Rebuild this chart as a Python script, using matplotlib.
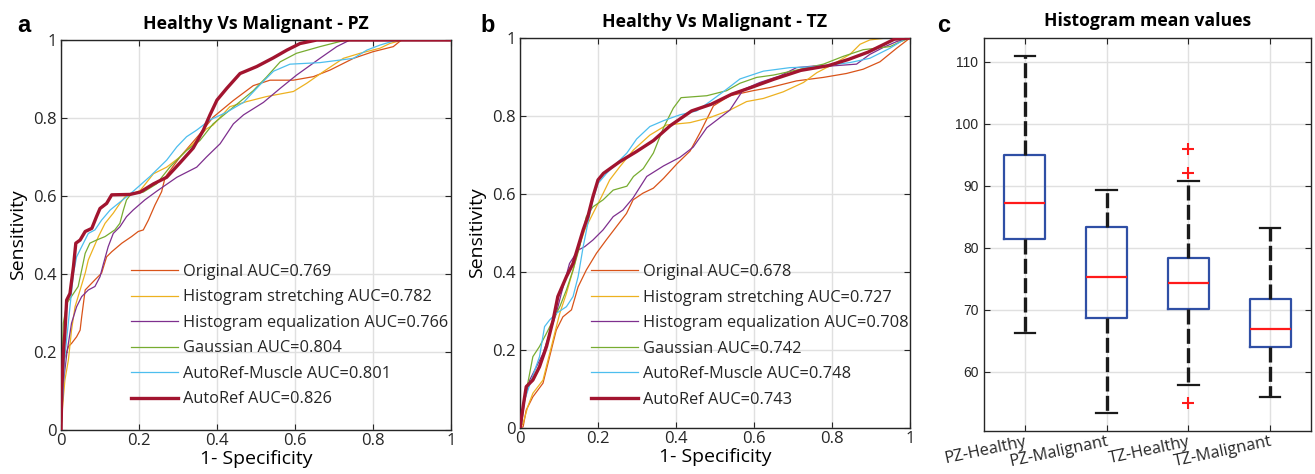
import matplotlib
matplotlib.use("Agg")
import matplotlib.pyplot as plt
import numpy as np

# ---------------- data ----------------
methods = ["Original", "Histogram stretching", "Histogram equalization",
           "Gaussian", "AutoRef-Muscle", "AutoRef"]
colors = ["#D95319", "#EDB120", "#7E2F8E", "#77AC30", "#4DBEEE", "#A2142F"]
auc_pz = ["0.769", "0.782", "0.766", "0.804", "0.801", "0.826"]
auc_tz = ["0.678", "0.727", "0.708", "0.742", "0.748", "0.743"]

# Panel a (PZ) ROC curves: (fpr, tpr)
pz_original_fpr = [0, 0.003, 0.008, 0.019, 0.027, 0.04, 0.049, 0.053, 0.062, 0.087, 0.104, 0.117, 0.13, 0.156, 0.181, 0.198, 0.211, 0.224, 0.241, 0.258, 0.267, 0.305, 0.356, 0.39, 0.442, 0.493, 0.536, 0.596, 0.647, 0.69, 0.75, 0.80, 0.852, 0.873, 1]
pz_original_tpr = [0, 0.10, 0.18, 0.214, 0.222, 0.239, 0.256, 0.29, 0.359, 0.385, 0.402, 0.444, 0.457, 0.479, 0.496, 0.509, 0.513, 0.538, 0.577, 0.611, 0.648, 0.70, 0.759, 0.802, 0.845, 0.883, 0.897, 0.897, 0.906, 0.923, 0.953, 0.97, 0.983, 1.0, 1]
pz_stretch_fpr = [0, 0.004, 0.01, 0.019, 0.027, 0.036, 0.049, 0.062, 0.07, 0.083, 0.096, 0.113, 0.134, 0.151, 0.164, 0.203, 0.237, 0.271, 0.305, 0.339, 0.373, 0.39, 0.433, 0.476, 0.527, 0.596, 0.63, 0.673, 0.724, 0.767, 0.818, 0.843, 0.877, 1]
pz_stretch_tpr = [0, 0.06, 0.128, 0.18, 0.256, 0.316, 0.359, 0.402, 0.436, 0.466, 0.496, 0.53, 0.556, 0.581, 0.598, 0.614, 0.657, 0.674, 0.70, 0.734, 0.772, 0.782, 0.829, 0.842, 0.855, 0.868, 0.889, 0.919, 0.953, 0.966, 0.979, 0.991, 1.0, 1]
pz_equal_fpr = [0, 0.006, 0.015, 0.027, 0.04, 0.053, 0.07, 0.087, 0.10, 0.109, 0.121, 0.134, 0.151, 0.168, 0.185, 0.215, 0.245, 0.297, 0.348, 0.373, 0.408, 0.442, 0.468, 0.519, 0.562, 0.604, 0.664, 0.707, 0.741, 1]
pz_equal_tpr = [0, 0.12, 0.197, 0.274, 0.316, 0.342, 0.359, 0.368, 0.393, 0.427, 0.47, 0.504, 0.521, 0.547, 0.564, 0.59, 0.612, 0.648, 0.674, 0.70, 0.734, 0.785, 0.808, 0.84, 0.876, 0.91, 0.953, 0.983, 1.0, 1]
pz_gauss_fpr = [0, 0.002, 0.006, 0.015, 0.032, 0.044, 0.053, 0.062, 0.074, 0.091, 0.113, 0.138, 0.151, 0.16, 0.168, 0.181, 0.211, 0.245, 0.279, 0.322, 0.356, 0.39, 0.442, 0.493, 0.527, 0.562, 0.604, 0.664, 0.715, 0.732, 1]
pz_gauss_tpr = [0, 0.15, 0.274, 0.325, 0.35, 0.368, 0.41, 0.453, 0.479, 0.487, 0.496, 0.513, 0.53, 0.564, 0.59, 0.607, 0.61, 0.631, 0.674, 0.717, 0.742, 0.785, 0.828, 0.87, 0.905, 0.944, 0.966, 0.983, 0.996, 1.0, 1]
pz_muscle_fpr = [0, 0.003, 0.01, 0.023, 0.032, 0.04, 0.053, 0.07, 0.087, 0.104, 0.126, 0.147, 0.168, 0.185, 0.228, 0.271, 0.297, 0.322, 0.348, 0.382, 0.425, 0.468, 0.51, 0.545, 0.587, 0.664, 0.75, 0.784, 0.818, 0.861, 1]
pz_muscle_tpr = [0, 0.06, 0.188, 0.316, 0.402, 0.444, 0.47, 0.504, 0.513, 0.538, 0.564, 0.581, 0.598, 0.612, 0.65, 0.692, 0.726, 0.752, 0.769, 0.795, 0.815, 0.84, 0.885, 0.92, 0.938, 0.942, 0.953, 0.974, 0.987, 1.0, 1]
pz_autoref_fpr = [0, 0.002, 0.006, 0.01, 0.0145, 0.023, 0.032, 0.038, 0.049, 0.062, 0.079, 0.091, 0.10, 0.117, 0.13, 0.177, 0.203, 0.237, 0.271, 0.305, 0.339, 0.365, 0.382, 0.40, 0.425, 0.459, 0.502, 0.544, 0.579, 0.613, 0.656, 1]
pz_autoref_tpr = [0, 0.10, 0.197, 0.25, 0.333, 0.35, 0.419, 0.479, 0.487, 0.509, 0.517, 0.547, 0.568, 0.581, 0.603, 0.604, 0.61, 0.631, 0.648, 0.685, 0.723, 0.769, 0.808, 0.846, 0.876, 0.914, 0.932, 0.954, 0.974, 0.991, 1.0, 1]

# Panel b (TZ) ROC curves
tz_original_fpr = [0, 0.008, 0.016, 0.033, 0.059, 0.076, 0.093, 0.11, 0.132, 0.149, 0.17, 0.196, 0.221, 0.247, 0.273, 0.29, 0.315, 0.342, 0.368, 0.402, 0.436, 0.462, 0.496, 0.538, 0.598, 0.641, 0.709, 0.778, 0.837, 0.88, 0.923, 0.966, 1]
tz_original_tpr = [0, 0.003, 0.046, 0.08, 0.115, 0.183, 0.251, 0.285, 0.303, 0.362, 0.405, 0.448, 0.482, 0.516, 0.55, 0.585, 0.602, 0.615, 0.64, 0.677, 0.71, 0.758, 0.826, 0.852, 0.865, 0.873, 0.89, 0.899, 0.909, 0.92, 0.939, 0.974, 1]
tz_stretch_fpr = [0, 0.008, 0.02, 0.033, 0.059, 0.076, 0.089, 0.102, 0.119, 0.136, 0.149, 0.166, 0.187, 0.209, 0.23, 0.256, 0.291, 0.333, 0.376, 0.436, 0.487, 0.538, 0.581, 0.624, 0.675, 0.727, 0.761, 0.803, 0.846, 0.872, 0.897, 0.94, 1]
tz_stretch_tpr = [0, 0.012, 0.055, 0.089, 0.123, 0.191, 0.243, 0.294, 0.345, 0.405, 0.456, 0.508, 0.55, 0.593, 0.636, 0.67, 0.713, 0.751, 0.777, 0.783, 0.796, 0.815, 0.837, 0.845, 0.862, 0.886, 0.911, 0.933, 0.958, 0.984, 0.995, 1.0, 1]
tz_equal_fpr = [0, 0.003, 0.012, 0.025, 0.042, 0.059, 0.076, 0.093, 0.106, 0.127, 0.149, 0.166, 0.187, 0.213, 0.239, 0.264, 0.29, 0.325, 0.368, 0.41, 0.444, 0.479, 0.538, 0.573, 0.615, 0.667, 0.709, 0.752, 0.795, 0.863, 0.897, 0.932, 0.966, 1]
tz_equal_tpr = [0, 0.003, 0.072, 0.123, 0.157, 0.191, 0.243, 0.294, 0.345, 0.422, 0.456, 0.465, 0.482, 0.508, 0.542, 0.559, 0.59, 0.645, 0.672, 0.694, 0.72, 0.77, 0.815, 0.868, 0.886, 0.903, 0.924, 0.928, 0.928, 0.933, 0.958, 0.976, 0.991, 1]
tz_gauss_fpr = [0, 0.008, 0.02, 0.033, 0.05, 0.068, 0.085, 0.102, 0.119, 0.136, 0.153, 0.17, 0.187, 0.213, 0.239, 0.274, 0.291, 0.316, 0.342, 0.368, 0.393, 0.413, 0.479, 0.53, 0.564, 0.607, 0.65, 0.692, 0.778, 0.829, 0.88, 0.949, 0.974, 1]
tz_gauss_tpr = [0, 0.055, 0.115, 0.183, 0.209, 0.243, 0.277, 0.311, 0.354, 0.405, 0.465, 0.542, 0.567, 0.585, 0.61, 0.62, 0.645, 0.665, 0.705, 0.77, 0.82, 0.847, 0.852, 0.865, 0.884, 0.899, 0.905, 0.914, 0.933, 0.953, 0.97, 0.978, 0.99, 1]
tz_muscle_fpr = [0, 0.003, 0.012, 0.029, 0.05, 0.063, 0.076, 0.093, 0.119, 0.136, 0.149, 0.162, 0.174, 0.187, 0.2, 0.222, 0.248, 0.274, 0.299, 0.333, 0.368, 0.41, 0.453, 0.487, 0.525, 0.564, 0.624, 0.692, 0.748, 0.8, 0.846, 0.897, 0.949, 0.983, 1]
tz_muscle_tpr = [0, 0.021, 0.072, 0.123, 0.183, 0.26, 0.277, 0.294, 0.311, 0.337, 0.388, 0.465, 0.525, 0.585, 0.627, 0.653, 0.679, 0.705, 0.741, 0.773, 0.788, 0.803, 0.813, 0.837, 0.865, 0.895, 0.915, 0.924, 0.926, 0.931, 0.937, 0.948, 0.974, 0.995, 1]
tz_autoref_fpr = [0, 0.008, 0.016, 0.033, 0.05, 0.068, 0.085, 0.097, 0.119, 0.136, 0.149, 0.162, 0.174, 0.187, 0.2, 0.214, 0.256, 0.299, 0.342, 0.385, 0.44, 0.49, 0.543, 0.595, 0.65, 0.72, 0.79, 0.842, 0.893, 0.94, 0.96, 1]
tz_autoref_tpr = [0, 0.055, 0.106, 0.123, 0.157, 0.209, 0.277, 0.337, 0.388, 0.422, 0.465, 0.508, 0.542, 0.593, 0.636, 0.653, 0.683, 0.709, 0.737, 0.775, 0.813, 0.83, 0.856, 0.874, 0.894, 0.917, 0.929, 0.945, 0.964, 0.987, 0.997, 1]

# Panel c box statistics
box_labels = ["PZ-Healthy", "PZ-Malignant", "TZ-Healthy", "TZ-Malignant"]
box_median = [87.3, 75.3, 74.4, 66.9]
box_q1 = [81.5, 68.7, 70.1, 64.0]
box_q3 = [95.0, 83.3, 78.4, 71.7]
box_whislo = [66.3, 53.3, 57.9, 55.9]
box_whishi = [111.0, 89.4, 90.8, 83.2]
box_fliers = [[], [], [96.0, 92.0, 55.0], []]

pz_curves = [(pz_original_fpr, pz_original_tpr), (pz_stretch_fpr, pz_stretch_tpr),
             (pz_equal_fpr, pz_equal_tpr), (pz_gauss_fpr, pz_gauss_tpr),
             (pz_muscle_fpr, pz_muscle_tpr), (pz_autoref_fpr, pz_autoref_tpr)]
tz_curves = [(tz_original_fpr, tz_original_tpr), (tz_stretch_fpr, tz_stretch_tpr),
             (tz_equal_fpr, tz_equal_tpr), (tz_gauss_fpr, tz_gauss_tpr),
             (tz_muscle_fpr, tz_muscle_tpr), (tz_autoref_fpr, tz_autoref_tpr)]

# ---------------- figure ----------------
W, H = 1315, 474
fig = plt.figure(figsize=(W / 100, H / 100), dpi=100)
FONT = "Open Sans"
SPINE = "#262626"
GRID = "#E0E0E0"


def px_axes(l, t, r, b):
    return fig.add_axes([l / W, 1 - b / H, (r - l) / W, (b - t) / H])


def style_axes(ax):
    for s in ax.spines.values():
        s.set_color(SPINE)
        s.set_linewidth(1.0)
    ax.tick_params(direction="in", top=True, right=True, length=4, width=0.8,
                   color=SPINE, labelcolor="#262626")
    ax.grid(True, color=GRID, linewidth=1.0)
    ax.set_axisbelow(True)


def roc_panel(ax, curves, aucs, title, leg_x, leg_y):
    for i, ((f, t), name, c) in enumerate(zip(curves, methods, colors)):
        lw = 2.4 if name == "AutoRef" else 0.9
        ax.plot(f, t, color=c, lw=lw, label=f"{name} AUC={aucs[i]}",
                zorder=3 if name == "AutoRef" else 2)
    ax.set_xlim(0, 1)
    ax.set_ylim(0, 1)
    ticks = [0, 0.2, 0.4, 0.6, 0.8, 1]
    tlabels = ["0", "0.2", "0.4", "0.6", "0.8", "1"]
    ax.set_xticks(ticks)
    ax.set_xticklabels(tlabels, fontsize=12, family=FONT)
    ax.set_yticks(ticks)
    ax.set_yticklabels(tlabels, fontsize=12, family=FONT)
    ax.tick_params(axis="x", pad=2)
    ax.tick_params(axis="y", pad=3)
    style_axes(ax)
    ax.set_xlabel("1- Specificity", fontsize=14, family=FONT, va="center")
    ax.xaxis.set_label_coords(0.5, -0.075)
    ax.set_ylabel("Sensitivity", fontsize=14, family=FONT, va="center")
    ax.yaxis.set_label_coords(-0.111, 0.5)
    ax.set_title(title, fontsize=12.8, family=FONT, fontweight="bold", pad=8)
    leg = ax.legend(loc="lower left", bbox_to_anchor=(leg_x, leg_y), frameon=False,
                    prop={"family": FONT, "size": 11.8}, handlelength=2.85,
                    handletextpad=0.3, labelspacing=0.58, borderaxespad=0.0,
                    borderpad=0.0)
    for t in leg.get_texts():
        t.set_color("#262626")


ax_a = px_axes(61, 40, 451, 430)
roc_panel(ax_a, pz_curves, auc_pz, "Healthy Vs Malignant - PZ", 0.18, 0.058)
ax_b = px_axes(520, 38, 910, 428)
roc_panel(ax_b, tz_curves, auc_tz, "Healthy Vs Malignant - TZ", 0.182, 0.052)

# panel c
ax_c = px_axes(984, 38, 1311, 431)
stats = []
for i in range(len(box_labels)):
    stats.append(dict(med=box_median[i], q1=box_q1[i], q3=box_q3[i],
                      whislo=box_whislo[i], whishi=box_whishi[i],
                      fliers=box_fliers[i], label=box_labels[i]))
ax_c.bxp(stats, positions=[1, 2, 3, 4], widths=0.5, capwidths=0.25,
         boxprops=dict(color="#2F4FA5", linewidth=1.6),
         medianprops=dict(color="#FF1A1A", linewidth=1.6),
         whiskerprops=dict(color="#1a1a1a", linewidth=2.4, linestyle=(0, (4.5, 1.3))),
         capprops=dict(color="#1a1a1a", linewidth=1.6),
         flierprops=dict(marker="+", markeredgecolor="#FF1A1A", markersize=8,
                         markeredgewidth=1.5, linestyle="none"))
ax_c.set_xlim(0.5, 4.5)
ax_c.set_ylim(50.47, 113.83)
ax_c.set_yticks([60, 70, 80, 90, 100, 110])
ax_c.set_yticklabels(["60", "70", "80", "90", "100", "110"],
                     fontsize=10, family="Liberation Sans")
ax_c.set_xticks([1, 2, 3, 4])
ax_c.set_xticklabels(box_labels, fontsize=11.8, family=FONT, rotation=12,
                     ha="right", va="top", rotation_mode="anchor")
style_axes(ax_c)
ax_c.tick_params(axis="x", pad=2)
ax_c.tick_params(axis="y", pad=4)
ax_c.set_title("Histogram mean values", fontsize=12.6, family=FONT,
               fontweight="bold", pad=9)

# panel letters
for x, y, s in [(24, 25, "a"), (488, 25, "b"), (944, 25, "c")]:
    fig.text(x / W, 1 - y / H, s, fontsize=17, fontweight="bold",
             family="Liberation Sans", ha="center", va="center")

fig.savefig("out.png", dpi=100)
